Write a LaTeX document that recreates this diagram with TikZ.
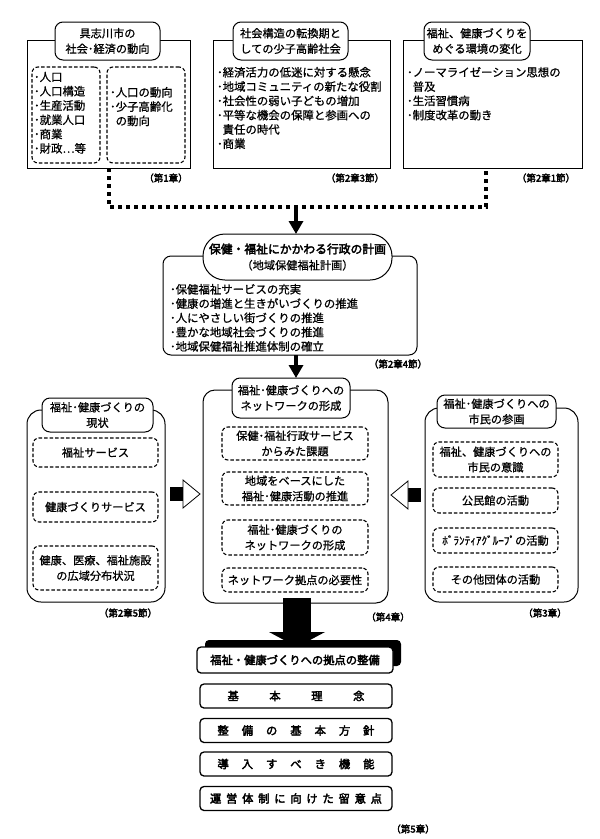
\documentclass[tikz,border=0pt]{standalone}
\usepackage{fontspec}
\setmainfont{Noto Sans CJK JP}[UprightFeatures={FakeBold=0.8}, BoldFont={Noto Sans CJK JP}, BoldFeatures={FakeBold=3}]
\usetikzlibrary{arrows.meta,shadows}
\newcommand\txtf{\fontsize{11.4}{14.3}\selectfont}
\newcommand\ttlf{\fontsize{11.2}{15.5}\selectfont}
\newcommand\lblf{\fontsize{9.5}{11}\selectfont\bfseries}
\newcommand\botf{\fontsize{11.3}{14}\selectfont\bfseries}
\begin{document}
\begin{tikzpicture}[x=1pt,y=-1pt,
  every node/.style={inner sep=0pt, outer sep=0pt},
  outerbox/.style={draw, line width=1pt, fill=white},
  roundbox/.style={draw, line width=1pt, fill=white, rounded corners=12pt},
  titlebox/.style={draw, line width=1pt, fill=white, rounded corners=8pt, align=center, font=\ttlf},
  dbox/.style={draw, dash pattern=on 3.5pt off 2pt, line width=1.1pt, rounded corners=6pt, align=center, font=\ttlf},
  btext/.style={anchor=north west, align=left, font=\txtf},
  lbl/.style={font=\lblf},
  dotline/.style={line width=4pt, dash pattern=on 4pt off 4pt},
  bigarrow/.style={line width=4.5pt, -{Triangle[length=13pt,width=14pt]}},
  bbox/.style={draw, line width=1.3pt, rounded corners=4pt, fill=white, minimum width=192pt, minimum height=24pt, font=\botf},
]
\useasboundingbox (0,0) rectangle (600,839);

% ---------- top row ----------
\node[outerbox, minimum width=163pt, minimum height=128pt] (tl) at (108.5,104) {};
\node[titlebox, minimum width=105pt, minimum height=38pt] (tlt) at (107.5,41) {具志川市の\\社会･経済の動向};
\node[dbox, minimum width=68pt, minimum height=96pt] (tld1) at (66,115) {};
\node[dbox, minimum width=78pt, minimum height=96pt] (tld2) at (146,115) {};
\node[btext] (tlx1) at (34,72) {･人口\\･人口構造\\･生産活動\\･就業人口\\･商業\\･財政…等};
\node[btext] (tlx2) at (110,87) {･人口の動向\\･少子高齢化\\\phantom{･}の動向};
\node[lbl] (l1) at (166,178) {（第1章）};

\node[outerbox, minimum width=177pt, minimum height=128pt] (tm) at (301.5,104) {};
\node[titlebox, minimum width=115pt, minimum height=38pt] (tmt) at (290.5,41) {社会構造の転換期と\\しての少子高齢社会};
\node[btext] (tmx) at (217,67) {･経済活力の低迷に対する懸念\\･地域コミュニティの新たな役割\\･社会性の弱い子どもの増加\\･平等な機会の保障と参画への\\\phantom{･}責任の時代\\･商業};
\node[lbl] (l2) at (355,178) {（第2章3節）};

\node[outerbox, minimum width=179pt, minimum height=128pt] (tr) at (492.5,104) {};
\node[titlebox, minimum width=106pt, minimum height=38pt] (trt) at (477,41) {福祉、健康づくりを\\めぐる環境の変化};
\node[btext] (trx) at (407,67) {･ノーマライゼーション思想の\\\phantom{･}普及\\･生活習慣病\\･制度改革の動き};
\node[lbl] (l3) at (546,178) {（第2章1節）};

% ---------- dotted merge ----------
\coordinate (j1) at (109,207);
\coordinate (j2) at (486,207);
\coordinate (jm) at (296,207);
\draw[dotline] (j1 |- tl.south) -- (j1) -- (j2) -- (j2 |- tr.south);

% ---------- plan ----------
\node[draw, line width=1pt, fill=white, rounded corners=8pt, minimum width=254pt, minimum height=99pt] (po) at (290,305.5) {};
\node[draw, line width=1pt, fill=white, rounded corners=22pt, minimum width=189pt, minimum height=46pt, align=center] (pt) at (297.5,257)
  {{\fontsize{11.8}{14}\selectfont\bfseries 保健・福祉にかかわる行政の計画}\\[4pt]{\fontsize{11.2}{14}\selectfont （地域保健福祉計画）}};
\node[btext] (px) at (170,284) {･保健福祉サービスの充実\\･健康の増進と生きがいづくりの推進\\･人にやさしい街づくりの推進\\･豊かな地域社会づくりの推進\\･地域保健福祉推進体制の確立};
\node[lbl] (l4) at (398,364) {（第2章4節）};
\draw[bigarrow] (jm) -- (jm |- pt.north);

% ---------- network ----------
\node[roundbox, minimum width=185pt, minimum height=213pt] (no) at (295.5,496.5) {};
\node[titlebox, minimum width=118pt, minimum height=40pt] (nt) at (291,398) {福祉･健康づくりへの\\ネットワークの形成};
\draw[bigarrow] (jm |- po.south) -- (jm |- nt.north);
\node[dbox, minimum width=146pt, minimum height=33pt] (nd1) at (295,443.5) {保健･福祉行政サービス\\からみた課題};
\node[dbox, minimum width=146pt, minimum height=33pt] (nd2) at (295,488.5) {地域をベースにした\\福祉･健康活動の推進};
\node[dbox, minimum width=146pt, minimum height=35pt] (nd3) at (295,537.5) {福祉･健康づくりの\\ネットワークの形成};
\node[dbox, minimum width=146pt, minimum height=24pt] (nd4) at (295,580) {ネットワーク拠点の必要性};
\node[lbl] (l5) at (388,617) {（第4章）};

% ---------- left ----------
\node[roundbox, rounded corners=14pt, minimum width=138pt, minimum height=192pt] (lo) at (96,506) {};
\node[titlebox, minimum width=111pt, minimum height=34pt] (lt) at (97.5,415) {福祉･健康づくりの\\現状};
\node[dbox, minimum width=125pt, minimum height=29pt] (ld1) at (95.5,452.5) {福祉サービス};
\node[dbox, minimum width=125pt, minimum height=30pt] (ld2) at (95.5,507) {健康づくりサービス};
\node[dbox, minimum width=125pt, minimum height=44pt] (ld3) at (95.5,568) {健康、医療、福祉施設\\の広域分布状況};
\node[lbl] (l6) at (128,613) {（第2章5節）};
% left block arrow
\fill[black] (170,487) rectangle (183,501);
\draw[fill=white, line width=0.8pt, line join=miter] (183,480) -- (200,494) -- (183,508) -- cycle;

% ---------- right ----------
\node[roundbox, rounded corners=14pt, minimum width=153pt, minimum height=194pt] (ro) at (501.5,505) {};
\node[titlebox, minimum width=119pt, minimum height=33pt] (rt) at (496.5,411.5) {福祉･健康づくりへの\\市民の参画};
\node[dbox, minimum width=125pt, minimum height=35pt] (rd1) at (495.5,459.5) {福祉、健康づくりへの\\市民の意識};
\node[dbox, minimum width=125pt, minimum height=25pt] (rd2) at (495.5,500.5) {公民館の活動};
\node[dbox, minimum width=125pt, minimum height=25pt] (rd3) at (495.5,540.5) {ﾎﾞﾗﾝﾃｨｱｸﾞﾙｰﾌﾟの活動};
\node[dbox, minimum width=125pt, minimum height=25pt] (rd4) at (495.5,579.5) {その他団体の活動};
\node[lbl] (l7) at (545,613) {（第3章）};
% right block arrow
\fill[black] (408,488) rectangle (421,502);
\draw[fill=white, line width=0.8pt, line join=miter] (408,481) -- (391,495) -- (408,509) -- cycle;

% ---------- big arrow ----------
\fill[black] (283,598) rectangle (311,633);
\fill[black] (269,632) -- (325,632) -- (297,647) -- cycle;

% ---------- bottom ----------
\node[bbox, minimum width=196pt, minimum height=26pt, general shadow={fill=black, shadow xshift=8pt, shadow yshift=7pt}] (b1) at (295,660) {福祉・健康づくりへの拠点の整備};
\node[bbox] (b2) at (296,696) {\makebox[137pt][s]{基\hfill 本\hfill 理\hfill 念}};
\node[bbox] (b3) at (296,730.5) {\makebox[157pt][s]{整\hfill 備\hfill の\hfill 基\hfill 本\hfill 方\hfill 針}};
\node[bbox] (b4) at (296,764) {\makebox[157pt][s]{導\hfill 入\hfill す\hfill べ\hfill き\hfill 機\hfill 能}};
\node[bbox] (b5) at (296,798.5) {\makebox[172pt][s]{運\hfill 営\hfill 体\hfill 制\hfill に\hfill 向\hfill け\hfill た\hfill 留\hfill 意\hfill 点}};
\node[lbl] (l8) at (413,829) {（第5章）};
\end{tikzpicture}
\end{document}
